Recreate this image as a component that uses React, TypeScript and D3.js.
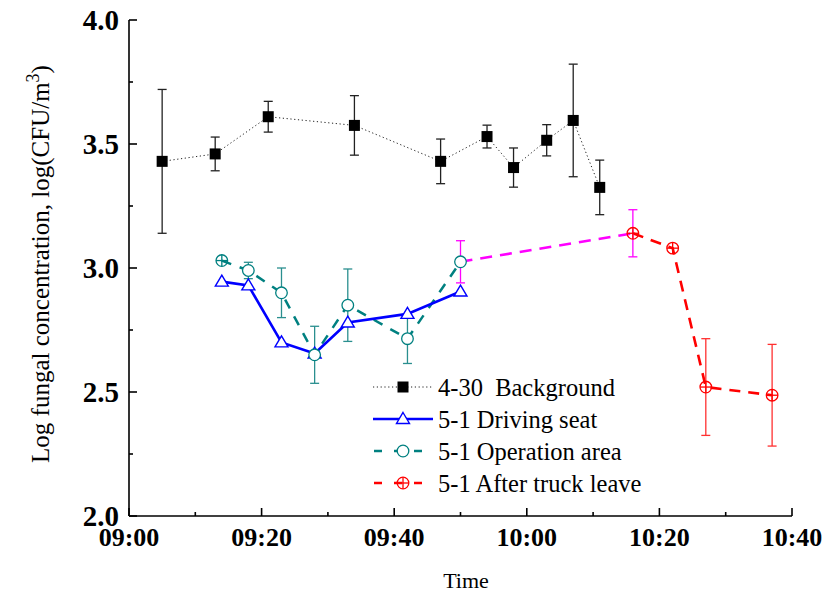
import React from "react";
import * as d3 from "d3";

// Sampling times in minutes after 09:00
const bgTimes = [5, 13, 21, 34, 47, 54, 58, 63, 67, 71];
const bgValues = [3.43, 3.46, 3.61, 3.575, 3.43, 3.53, 3.405, 3.515, 3.595, 3.325];
const bgErrors = [0.29, 0.068, 0.062, 0.12, 0.09, 0.046, 0.079, 0.063, 0.227, 0.11];

const seatTimes = [14, 18, 23, 28, 33, 42, 50];
const seatValues = [2.945, 2.93, 2.7, 2.655, 2.78, 2.815, 2.905];

const opTimes = [14, 18, 23, 28, 33, 42, 50];
const opValues = [3.03, 2.99, 2.9, 2.65, 2.85, 2.715, 3.025];
const opErrors = [0, 0.033, 0.1, 0.115, 0.146, 0.1, 0];

// Link between the operation-area run and the post-departure run
const linkTimes = [50, 76];
const linkValues = [3.025, 3.14];
const linkErrors = [0.085, 0.095];

const afterTimes = [76, 82, 87, 97];
const afterValues = [3.14, 3.08, 2.52, 2.487];
const afterErrors = [0, 0, 0.195, 0.205];

const yTicks = [2.0, 2.5, 3.0, 3.5, 4.0];
const yMinorTicks = [2.25, 2.75, 3.25, 3.75];
const xTickLabels = ["09:00", "09:20", "09:40", "10:00", "10:20", "10:40"];

const legendLabels = [
  "4-30\u00a0\u00a0Background",
  "5-1 Driving seat",
  "5-1 Operation area",
  "5-1 After truck leave",
];

const W = 826;
const H = 597;
const base = new Date(2000, 0, 1, 9, 0);
const toDate = (m: number) => new Date(base.getTime() + m * 60000);

const x = d3
  .scaleTime()
  .domain([toDate(0), toDate(100)])
  .range([129, 792]);
const y = d3.scaleLinear().domain([2, 4]).range([516, 20]);

const SERIF = "'Liberation Serif', 'Times New Roman', serif";
const TEAL = "#008080";
const TEAL_BAR = "#2a8f8f";

type Pt = { t: number; v: number; e: number };
const zip = (ts: number[], vs: number[], es?: number[]): Pt[] =>
  ts.map((t, i) => ({ t, v: vs[i], e: es ? es[i] : 0 }));

const bg = zip(bgTimes, bgValues, bgErrors);
const seat = zip(seatTimes, seatValues);
const op = zip(opTimes, opValues, opErrors);
const link = zip(linkTimes, linkValues, linkErrors);
const after = zip(afterTimes, afterValues, afterErrors);

const line = d3
  .line<Pt>()
  .x((d) => x(toDate(d.t)))
  .y((d) => y(d.v));

function ErrorBars({ pts, color, width = 1.3 }: { pts: Pt[]; color: string; width?: number }) {
  return (
    <g stroke={color} strokeWidth={width} fill="none">
      {pts
        .filter((d) => d.e > 0)
        .map((d, i) => {
          const cx = x(toDate(d.t));
          const y1 = y(d.v + d.e);
          const y2 = y(d.v - d.e);
          return (
            <g key={i}>
              <line x1={cx} x2={cx} y1={y1} y2={y2} />
              <line x1={cx - 4.5} x2={cx + 4.5} y1={y1} y2={y1} />
              <line x1={cx - 4.5} x2={cx + 4.5} y1={y2} y2={y2} />
            </g>
          );
        })}
    </g>
  );
}

const Square = ({ cx, cy }: { cx: number; cy: number }) => (
  <rect x={cx - 5.5} y={cy - 5.5} width={11} height={11} fill="#000" />
);
const Triangle = ({ cx, cy }: { cx: number; cy: number }) => (
  <path
    d={`M${cx},${cy - 6.5}L${cx + 6.5},${cy + 4.5}L${cx - 6.5},${cy + 4.5}Z`}
    fill="#fff"
    stroke="#0000ff"
    strokeWidth={1.4}
  />
);
const Circle = ({ cx, cy, color = TEAL }: { cx: number; cy: number; color?: string }) => (
  <circle cx={cx} cy={cy} r={5.8} fill="#fff" stroke={color} strokeWidth={1.3} />
);
const CrossCircle = ({ cx, cy, color }: { cx: number; cy: number; color: string }) => (
  <g stroke={color} strokeWidth={1.3} fill="none">
    <circle cx={cx} cy={cy} r={5.8} />
    <line x1={cx - 5.8} x2={cx + 5.8} y1={cy} y2={cy} />
    <line x1={cx} x2={cx} y1={cy - 5.8} y2={cy + 5.8} />
  </g>
);

export default function App() {
  const majorX = d3.range(0, 101, 20);
  const minorX = d3.range(10, 100, 20);
  const legendY = [387, 419, 451, 483];
  const lx0 = 373;
  const lx1 = 433;
  const lxm = 403;

  return (
    <svg
      width={W}
      height={H}
      style={{ position: "absolute", left: 0, top: 0, background: "#fff" }}
      fontFamily={SERIF}
    >
      {/* Background series */}
      <path d={line(bg) || ""} fill="none" stroke="#222" strokeWidth={1} strokeDasharray="1.2,2.6" />
      <ErrorBars pts={bg} color="#222" />

      {/* Operation area */}
      <path d={line(op) || ""} fill="none" stroke={TEAL} strokeWidth={2.5} strokeDasharray="10,9" />
      <ErrorBars pts={op} color={TEAL_BAR} />

      {/* Driving seat */}
      <path d={line(seat) || ""} fill="none" stroke="#0000ff" strokeWidth={2.6} />

      {/* Link segment */}
      <path d={line(link) || ""} fill="none" stroke="#ff00ff" strokeWidth={2.6} strokeDasharray="12,8" />

      {/* After truck leave */}
      <path d={line(after) || ""} fill="none" stroke="#ff0000" strokeWidth={2.6} strokeDasharray="11,8" />
      <ErrorBars pts={after} color="#ff3030" />
      <ErrorBars pts={link} color="#ff00ff" />

      {bg.map((d, i) => (
        <Square key={i} cx={x(toDate(d.t))} cy={y(d.v)} />
      ))}
      {seat.map((d, i) => (
        <Triangle key={i} cx={x(toDate(d.t))} cy={y(d.v)} />
      ))}
      {op.map((d, i) =>
        i === 0 ? (
          <CrossCircle key={i} cx={x(toDate(d.t))} cy={y(d.v)} color={TEAL} />
        ) : (
          <Circle key={i} cx={x(toDate(d.t))} cy={y(d.v)} />
        )
      )}
      {after.map((d, i) => (
        <CrossCircle key={i} cx={x(toDate(d.t))} cy={y(d.v)} color="#ff0000" />
      ))}

      {/* Axes */}
      <g stroke="#000" strokeWidth={1.6} fill="none">
        <line x1={129} x2={129} y1={y(4)} y2={y(2)} />
        <line x1={129} x2={x(toDate(100))} y1={y(2)} y2={y(2)} />
        {yTicks.map((t) => (
          <line key={t} x1={129} x2={137} y1={y(t)} y2={y(t)} />
        ))}
        {yMinorTicks.map((t) => (
          <line key={t} x1={129} x2={133} y1={y(t)} y2={y(t)} />
        ))}
        {majorX.map((m) => (
          <line key={m} x1={x(toDate(m))} x2={x(toDate(m))} y1={y(2)} y2={y(2) - 8} />
        ))}
        {minorX.map((m) => (
          <line key={m} x1={x(toDate(m))} x2={x(toDate(m))} y1={y(2)} y2={y(2) - 4} />
        ))}
      </g>
      <g fontWeight="bold" fill="#000">
        {yTicks.map((t) => (
          <text key={t} x={119} y={y(t)} dy="0.34em" textAnchor="end" fontSize={29}>
            {t.toFixed(1)}
          </text>
        ))}
        {majorX.map((m, i) => (
          <text key={m} x={x(toDate(m))} y={546} textAnchor="middle" fontSize={26}>
            {xTickLabels[i]}
          </text>
        ))}
      </g>
      <text x={466} y={588} textAnchor="middle" fontSize={22}>
        Time
      </text>
      <text
        transform="translate(49,264) rotate(-90)"
        textAnchor="middle"
        fontSize={25}
      >
        Log fungal concentration, log(CFU/m
        <tspan dy={-10} fontSize={18}>3</tspan>
        <tspan dy={10}>)</tspan>
      </text>

      {/* Legend */}
      <g fontSize={24.5}>
        <line x1={lx0} x2={lx1} y1={legendY[0]} y2={legendY[0]} stroke="#222" strokeWidth={1} strokeDasharray="1.2,2.6" />
        <Square cx={lxm} cy={legendY[0]} />
        <line x1={lx0} x2={lx1} y1={legendY[1]} y2={legendY[1]} stroke="#0000ff" strokeWidth={2.6} />
        <Triangle cx={lxm} cy={legendY[1]} />
        <line x1={lx0} x2={lx1} y1={legendY[2]} y2={legendY[2]} stroke={TEAL} strokeWidth={2.5} strokeDasharray="8,12" strokeDashoffset={-1} />
        <Circle cx={lxm} cy={legendY[2]} />
        <line x1={lx0} x2={lx1} y1={legendY[3]} y2={legendY[3]} stroke="#ff0000" strokeWidth={2.6} strokeDasharray="8,12" strokeDashoffset={-1} />
        <CrossCircle cx={lxm} cy={legendY[3]} color="#ff0000" />
        {legendLabels.map((s, i) => (
          <text key={i} x={438} y={legendY[i]} dy="0.35em" fill="#000">
            {s}
          </text>
        ))}
      </g>
    </svg>
  );
}
